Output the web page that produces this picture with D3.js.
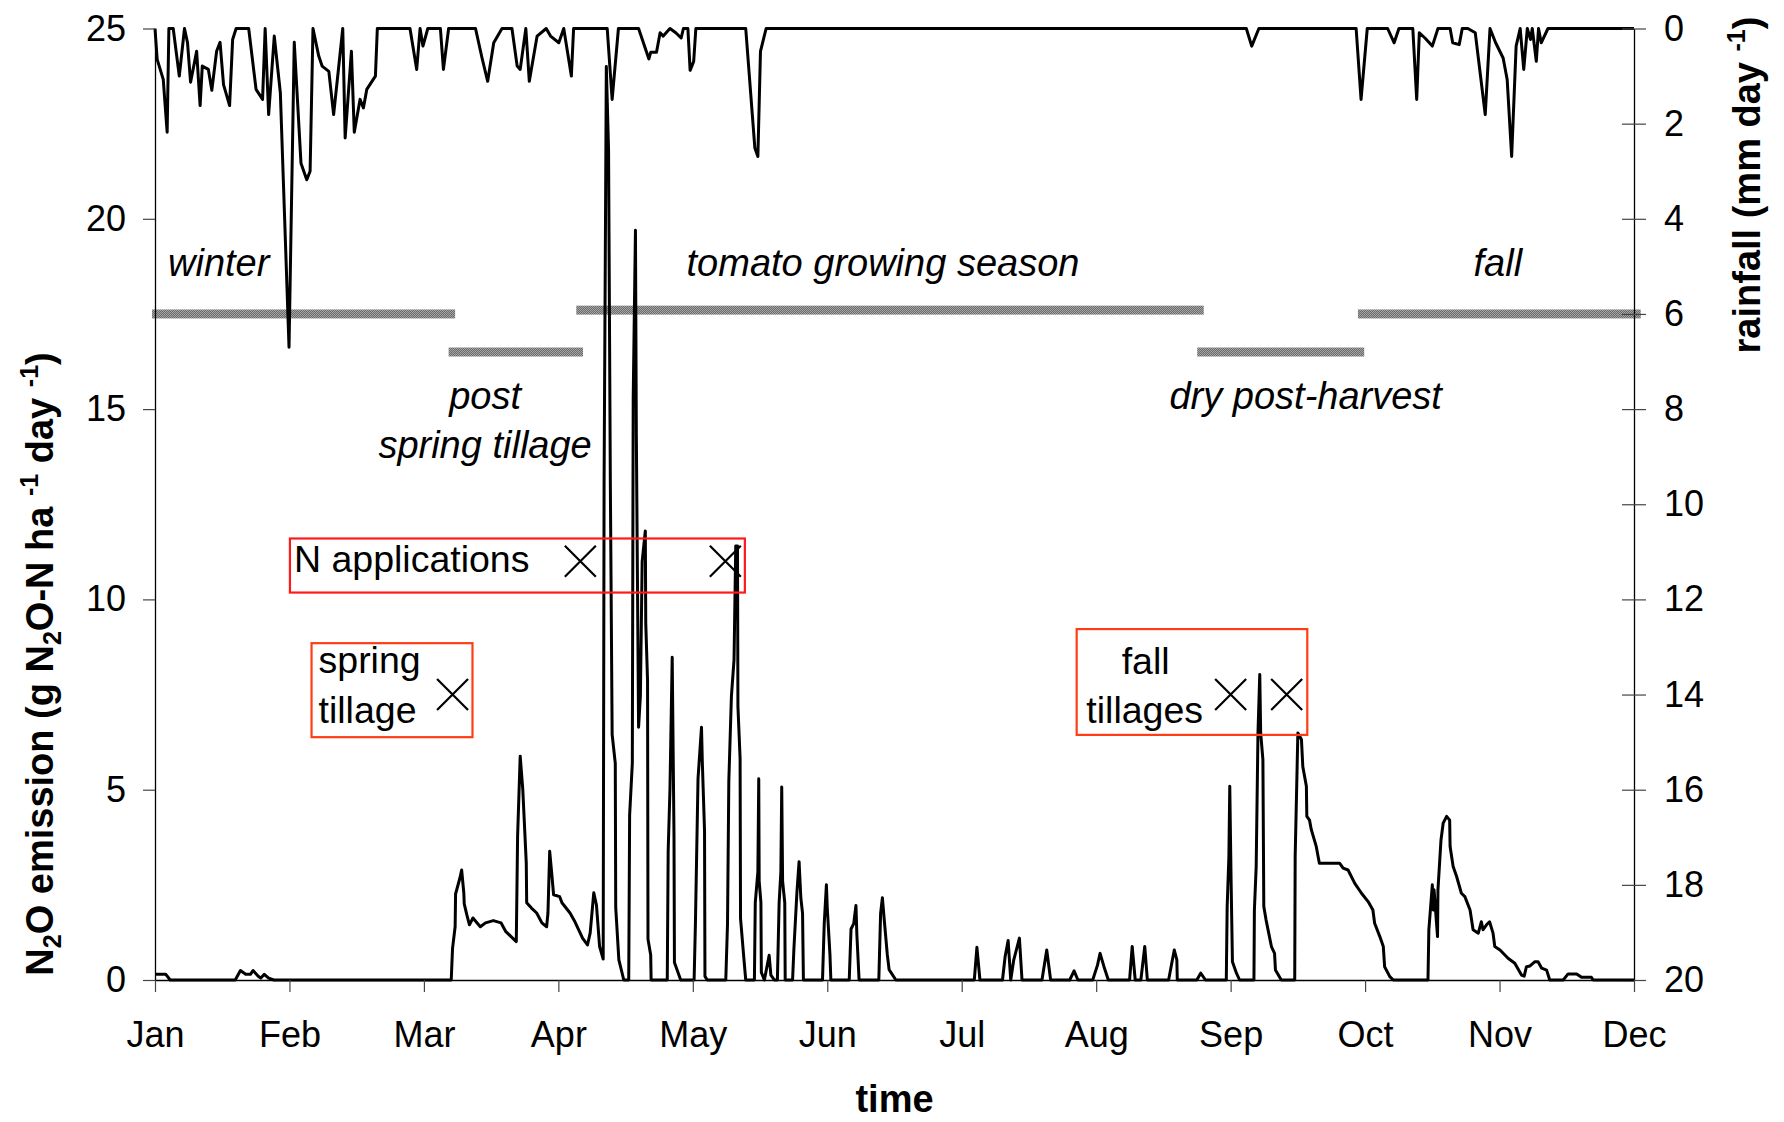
<!DOCTYPE html>
<html>
<head>
<meta charset="utf-8">
<script src="https://cdn.jsdelivr.net/npm/d3@7"></script>
<style>
  html, body { margin: 0; padding: 0; background: #fff; }
  svg { display: block; }
  text { font-family: "Liberation Sans", Arial, sans-serif; fill: #000; }
</style>
</head>
<body>
<div id="chart"></div>
<script>
// Month axis: ticks at the first day of each month (day of year, Jan 1 = 0)
const MONTHS = ["Jan", "Feb", "Mar", "Apr", "May", "Jun", "Jul", "Aug", "Sep", "Oct", "Nov", "Dec"]
const MONTH_START = [0, 31, 59, 90, 120, 151, 181, 212, 243, 273, 304, 334]
const N2O_TICKS = [0, 5, 10, 15, 20, 25]
const RAIN_TICKS = [0, 2, 4, 6, 8, 10, 12, 14, 16, 18, 20]

// daily N2O emission, [day of year, g N2O-N ha-1 day-1]
const n2o = [
  [0, 0.15], [2.5, 0.15], [3.5, 0], [18.5, 0], [19.7, 0.25], [20.9, 0.15], [22, 0.15], [22.6, 0.25],
  [23.8, 0.1], [24.4, 0.05], [25.2, 0.15], [26.2, 0.05], [27.4, 0],
  [65.3, 0], [65.6, 0.83], [66.2, 1.4], [66.3, 2.26], [67.3, 2.68], [67.7, 2.89], [68.2, 2.29], [68.3, 2.0],
  [68.9, 1.71], [69.5, 1.45], [70.3, 1.63], [72, 1.4], [73.2, 1.5], [75, 1.56], [76.8, 1.5], [77.9, 1.27],
  [79.1, 1.14], [80.3, 1.01], [80.6, 3.77], [81.2, 5.88], [81.8, 5.0], [82.6, 3.07], [82.7, 2.03], [83.8, 1.89],
  [85, 1.76], [86.2, 1.5], [87.3, 1.4], [87.6, 1.76], [88, 3.38], [88.5, 2.76], [88.9, 2.24], [90.3, 2.19],
  [90.8, 2.03], [92.6, 1.76], [93.7, 1.53], [95.4, 1.1], [96.5, 0.92], [97.1, 1.24], [97.9, 2.29], [98.5, 1.97],
  [99.2, 0.88], [100, 0.55],
  [100.2, 13.0], [100.7, 24.0], [101.2, 21.8], [101.6, 13.0], [102, 6.45], [102.7, 5.69], [102.8, 1.9],
  [103.5, 0.53], [104.6, 0],
  [105.7, 0], [105.9, 4.33], [106.5, 5.69], [106.7, 15.3], [107.2, 19.7], [107.4, 14.3], [107.9, 6.64],
  [108.3, 7.46], [108.7, 11.0], [109.4, 11.8], [109.5, 9.37], [109.9, 7.87], [110, 1.07], [110.6, 0.66], [110.7, 0],
  [114.3, 0], [114.5, 3.38], [114.9, 5.01], [115.4, 8.48], [115.8, 3.79], [115.9, 0.46], [117.3, 0],
  [120.3, 0], [120.6, 1.48], [121.2, 5.29], [122, 6.64], [122.2, 5.69], [122.7, 3.93], [122.8, 0.1], [123.3, 0],
  [127.6, 0], [128, 1.48], [128.3, 5.22], [128.9, 7.46], [129.5, 8.41], [129.9, 11.4], [130.3, 11.4],
  [130.4, 7.19], [130.9, 5.83], [131, 1.62], [131.8, 0.53], [132.2, 0],
  [134.2, 0], [134.4, 2.03], [135, 2.84], [135.2, 5.29], [135.3, 2.6], [135.7, 2.03], [135.8, 0.2], [136.5, 0],
  [137.6, 0.65], [138, 0.13], [138.8, 0],
  [139.5, 0], [139.9, 2.03], [140.3, 2.84], [140.5, 5.07], [140.7, 2.6], [141.2, 2.03], [141.3, 0], [143, 0],
  [143.3, 0.8], [144, 2.3], [144.5, 3.11], [144.9, 2.16], [145.3, 1.75], [145.5, 0],
  [149.9, 0], [150.3, 1.48], [150.8, 2.5], [151, 1.89], [151.6, 0.66], [151.8, 0],
  [155.9, 0], [156.3, 1.34], [156.9, 1.48], [157.4, 1.96], [157.6, 1.2], [158.1, 0],
  [162.5, 0], [162.9, 1.75], [163.3, 2.16], [163.7, 1.6], [164.4, 0.66], [164.8, 0.27], [165.2, 0.2], [166.3, 0],
  [183.9, 0], [184.5, 0.86], [185.2, 0],
  [190.4, 0], [191, 0.61], [191.7, 1.04], [192.3, 0], [193, 0.53], [194.3, 1.1], [194.9, 0],
  [199.5, 0], [200.6, 0.79], [201.5, 0],
  [205.9, 0], [206.9, 0.24], [207.8, 0],
  [211.2, 0], [212.3, 0.39], [212.9, 0.7], [213.8, 0.35], [214.8, 0],
  [219.7, 0], [220.3, 0.88], [221, 0], [222.3, 0], [223.2, 0.88], [223.8, 0],
  [228.7, 0], [230, 0.79], [230.6, 0.53], [230.7, 0],
  [235.2, 0], [236.1, 0.18], [237.2, 0],
  [242, 0], [242.2, 1.93], [242.6, 3.25], [242.8, 5.09], [243.1, 2.63], [243.4, 0.48], [244.3, 0.18], [245, 0],
  [248.2, 0], [248.3, 1.84], [248.7, 2.98], [249.1, 6.49], [249.5, 8.03], [249.7, 6.49], [250.2, 5.79],
  [250.4, 1.93], [250.9, 1.58], [252.1, 0.88], [252.8, 0.7], [253, 0.26], [254.3, 0],
  [257.3, 0], [257.4, 3.25], [258, 6.49], [258.8, 6.32], [259.1, 5.61], [259.9, 5.09], [260, 4.3], [260.6, 4.2],
  [261, 3.95], [262.1, 3.51], [262.8, 3.07], [267.3, 3.07], [268.1, 2.94], [269.2, 2.89], [270.7, 2.54],
  [272.2, 2.28], [273.7, 2.06], [274.8, 1.84], [275.2, 1.49], [276.4, 1.14], [277.2, 0.88], [277.5, 0.35],
  [278.7, 0.09], [279.5, 0],
  [287.5, 0], [287.7, 1.32], [288.5, 2.5], [288.7, 1.84], [288.9, 2.37], [289.7, 1.14], [289.8, 2.37],
  [290.5, 3.68], [291, 4.12], [291.8, 4.3], [292.5, 4.2], [292.6, 3.51], [293.3, 2.98], [294.1, 2.72],
  [295.2, 2.28], [296, 2.19], [297.2, 1.84], [297.9, 1.32], [299.1, 1.23], [299.8, 1.53], [300.2, 1.32],
  [301, 1.45], [301.7, 1.53], [302.5, 1.23], [302.9, 0.88], [304.1, 0.79], [305.9, 0.57], [307.4, 0.44],
  [308.9, 0.13], [309.5, 0.1], [310, 0.35], [310.8, 0.37], [311.9, 0.48], [312.6, 0.48], [313.4, 0.31],
  [314.5, 0.26], [315.2, 0], [318.2, 0], [319.3, 0.16], [321.2, 0.16], [322.3, 0.07], [324.5, 0.07],
  [324.9, 0], [334, 0]
]

// daily rainfall, [day of year, mm day-1] (plotted on the reversed right axis)
const rainfall = [
  [0, 0], [0.5, 0.65], [1.9, 1.07], [2.8, 2.18], [3.2, 0], [4.2, 0], [5.6, 1.0], [6.8, 0], [7.5, 0.3],
  [8.2, 1.13], [9.6, 0.48], [10.4, 1.62], [10.9, 0.79], [12.3, 0.86], [13.1, 1.3], [14.2, 0.48], [15, 0.29],
  [15.8, 1.18], [17.2, 1.62], [17.9, 0.23], [18.7, 0], [21.6, 0], [23.3, 1.28], [24.8, 1.49], [25.4, 0],
  [26.2, 1.81], [27.5, 0.16], [28.9, 1.35], [30.9, 6.7], [32, 0.29], [33.4, 2.83], [34.6, 3.18], [35.3, 3.0],
  [35.9, 0], [37.1, 0.58], [37.8, 0.79], [39.2, 0.9], [40.2, 1.81], [42.1, 0], [42.6, 2.3], [43.9, 0.48],
  [44.5, 2.18], [45.7, 1.49], [46.4, 1.67], [47.1, 1.28], [48.9, 1.0], [49.3, 0], [56.1, 0], [57.5, 0.86],
  [58.2, 0], [58.8, 0.37], [59.9, 0], [62.8, 0], [63.5, 0.86], [64.7, 0], [70.9, 0], [72.4, 0.62],
  [73.7, 1.11], [75.1, 0.3], [77, 0], [79.3, 0], [80.5, 0.79], [81.2, 0.86], [82.5, 0], [83.3, 1.11],
  [85.1, 0.16], [87.2, 0], [88.2, 0.16], [90.1, 0.3], [91.2, 0], [92.9, 1.0], [93.4, 0], [100.9, 0],
  [102, 1.49], [103.4, 0], [107.9, 0], [110.2, 0.64], [110.6, 0.5], [111.9, 0.5], [112.7, 0.09], [113.4, 0.16],
  [114.9, 0], [116.2, 0.09], [117.4, 0.2], [117.9, 0], [118.9, 0], [119.4, 0.88], [120.2, 0.69], [120.7, 0],
  [132.2, 0], [134.3, 2.51], [135, 2.69], [135.6, 0.48], [136.9, 0], [246.5, 0], [247.7, 0.37], [249.3, 0],
  [271, 0], [272.1, 1.49], [273.5, 0], [278.2, 0], [279.7, 0.3], [280.8, 0], [284, 0], [284.9, 1.49],
  [285.5, 0.09], [286.8, 0.2], [288.5, 0.37], [289.8, 0], [292.6, 0], [293.2, 0.3], [294.7, 0.34], [295.4, 0],
  [296.7, 0], [298.4, 0.09], [300.7, 1.81], [301.8, 0], [303.1, 0.3], [304.8, 0.62], [305.7, 1.07],
  [306.7, 2.69], [307.7, 0.37], [308.6, 0], [309.4, 0.86], [310.2, 0], [310.9, 0.23], [311.3, 0],
  [312.2, 0.69], [312.7, 0], [313.3, 0.3], [314.8, 0], [334, 0]
]

// season periods drawn as hatched bars (day of year, level on left axis)
const SEASON_NAMES = ["winter", "post spring tillage", "tomato growing season", "dry post-harvest", "fall"]
const SEASON_START = [-0.7, 64.7, 94.0, 235.3, 271.4]
const SEASON_END = [66.2, 95.5, 236.8, 272.8, 335.5]
const SEASON_LEVEL = [17.5, 16.5, 17.6, 16.5, 17.5]

// management events (day of year) and the level they are marked at
const N_APPLICATION_DAYS = [94.9, 127.5]
const SPRING_TILLAGE_DAYS = [65.6]
const FALL_TILLAGE_DAYS = [243.0, 255.5]
const N_APPLICATION_LEVEL = 11
const TILLAGE_LEVEL = 7.5

const W = 1784, H = 1122
const plot = { left: 155, right: 1634, top: 28.5, bottom: 980 }
const FONT = 36

const svg = d3.select("#chart").append("svg")
  .attr("width", W).attr("height", H)
svg.append("rect").attr("width", W).attr("height", H).attr("fill", "#fff")

// month ticks are evenly spaced, so map each month start onto an equal step
const step = (plot.right - plot.left) / (MONTH_START.length - 1)
const x = d3.scaleLinear()
  .domain(MONTH_START)
  .range(MONTH_START.map((d, i) => plot.left + i * step))
const yL = d3.scaleLinear().domain([0, 25]).range([plot.bottom, plot.top])
const yR = d3.scaleLinear().domain([0, 20]).range([plot.top, plot.bottom])

// Hatched gray fill for the season bars
const defs = svg.append("defs")
const pat = defs.append("pattern")
  .attr("id", "season-hatch")
  .attr("width", 2).attr("height", 2)
  .attr("patternUnits", "userSpaceOnUse")
pat.append("rect").attr("width", 2).attr("height", 2).attr("fill", "#6a6a6a")
pat.append("rect").attr("width", 1).attr("height", 1).attr("fill", "#a6a6a6")
pat.append("rect").attr("x", 1).attr("y", 1).attr("width", 1).attr("height", 1).attr("fill", "#a6a6a6")

const seasons = SEASON_NAMES.map((name, i) => ({
  name, start: SEASON_START[i], end: SEASON_END[i], level: SEASON_LEVEL[i]
}))

svg.append("g").selectAll("rect")
  .data(seasons)
  .join("rect")
  .attr("x", d => x(d.start))
  .attr("width", d => x(d.end) - x(d.start))
  .attr("y", d => yL(d.level) - 4.5)
  .attr("height", 9)
  .attr("fill", "url(#season-hatch)")

// Rainfall (top, reversed axis)
svg.append("path")
  .datum(rainfall)
  .attr("d", d3.line().x(d => x(d[0])).y(d => yR(d[1])))
  .attr("fill", "none")
  .attr("stroke", "#000")
  .attr("stroke-width", 3)
  .attr("stroke-linejoin", "round")

// N2O emission
svg.append("path")
  .datum(n2o)
  .attr("d", d3.line().x(d => x(d[0])).y(d => yL(d[1])))
  .attr("fill", "none")
  .attr("stroke", "#000")
  .attr("stroke-width", 3)
  .attr("stroke-linejoin", "round")

// Axes
const axisLeft = svg.append("g")
  .attr("transform", `translate(${plot.left},0)`)
  .call(d3.axisLeft(yL).tickValues(N2O_TICKS).tickSize(12).tickSizeOuter(0).tickPadding(17))
const axisRight = svg.append("g")
  .attr("transform", `translate(${plot.right},0)`)
  .call(d3.axisRight(yR).tickValues(RAIN_TICKS).tickSize(12).tickSizeOuter(0).tickPadding(18))
axisRight.selectAll(".tick line").attr("x1", -12)
const axisBottom = svg.append("g")
  .attr("transform", `translate(0,${plot.bottom})`)
  .call(d3.axisBottom(x).tickValues(MONTH_START).tickFormat((d, i) => MONTHS[i])
    .tickSize(12).tickSizeOuter(0).tickPadding(29))

for (const g of [axisLeft, axisRight, axisBottom]) {
  g.select(".domain").attr("stroke", "#000").attr("stroke-width", 1.3)
  g.selectAll(".tick line").attr("stroke", "#444").attr("stroke-width", 1.2)
  g.selectAll(".tick text")
    .attr("font-size", FONT)
    .attr("font-family", '"Liberation Sans", Arial, sans-serif')
    .attr("fill", "#000")
}

// Axis titles
const leftTitle = svg.append("text")
  .attr("transform", `translate(53,${664}) rotate(-90)`)
  .attr("text-anchor", "middle")
  .attr("font-size", 38)
  .attr("font-weight", "bold")
const subSup = (t, parts) => parts.forEach(([s, kind]) => {
  const ts = t.append("tspan").text(s)
  if (kind === "sub") ts.attr("font-size", 25).attr("dy", 8)
  if (kind === "sup") ts.attr("font-size", 25).attr("dy", -15)
  if (kind === "afterSub") ts.attr("dy", -8)
  if (kind === "afterSup") ts.attr("dy", 15)
})
subSup(leftTitle, [
  ["N"], ["2", "sub"], ["O emission (g N", "afterSub"], ["2", "sub"], ["O-N ha ", "afterSub"],
  ["-1", "sup"], [" day ", "afterSup"], ["-1", "sup"], [")", "afterSup"]
])

const rightTitle = svg.append("text")
  .attr("transform", `translate(1760,${185}) rotate(-90)`)
  .attr("text-anchor", "middle")
  .attr("font-size", 38)
  .attr("font-weight", "bold")
subSup(rightTitle, [["rainfall (mm day "], ["-1", "sup"], [")", "afterSup"]])

svg.append("text")
  .attr("x", (plot.left + plot.right) / 2)
  .attr("y", 1112)
  .attr("text-anchor", "middle")
  .attr("font-size", 38)
  .attr("font-weight", "bold")
  .text("time")

// Season labels (italic)
const italic = (tx, ty, anchor, lines) => {
  const t = svg.append("text")
    .attr("x", tx).attr("y", ty)
    .attr("text-anchor", anchor)
    .attr("font-size", 38)
    .attr("font-style", "italic")
  lines.forEach((s, i) => t.append("tspan").attr("x", tx).attr("dy", i ? 49 : 0).text(s))
}
italic(x(3), yL(18.5), "start", ["winter"])
italic(x(118.6), yL(18.5), "start", ["tomato growing season"])
italic(x(298), yL(18.5), "start", ["fall"])
italic(x(73.1), yL(15.0), "middle", ["post", "spring tillage"])
italic(x(228.9), yL(15.0), "start", ["dry post-harvest"])

// Annotation boxes with event markers
const cross = (g, cx, cy, r) => g.append("path")
  .attr("d", `M${cx - r},${cy - r}L${cx + r},${cy + r}M${cx - r},${cy + r}L${cx + r},${cy - r}`)
  .attr("stroke", "#000")
  .attr("stroke-width", 2.2)
  .attr("fill", "none")

const ann = svg.append("g")
const box = (d0, d1, vTop, vBot, color) => ann.append("rect")
  .attr("x", x(d0)).attr("y", yL(vTop))
  .attr("width", x(d1) - x(d0)).attr("height", yL(vBot) - yL(vTop))
  .attr("fill", "none").attr("stroke", color).attr("stroke-width", 2.2)

box(31.1, 132.0, 11.6, 10.18, "#ff1a1a")
box(35.6, 70.2, 8.85, 6.38, "#ff3d14")
box(207.5, 260.1, 9.22, 6.44, "#ff3d14")

N_APPLICATION_DAYS.forEach(d => cross(ann, x(d), yL(N_APPLICATION_LEVEL), 15.5))
SPRING_TILLAGE_DAYS.forEach(d => cross(ann, x(d), yL(TILLAGE_LEVEL), 15.5))
FALL_TILLAGE_DAYS.forEach(d => cross(ann, x(d), yL(TILLAGE_LEVEL), 15.5))

const label = (tx, ty, anchor, s) => ann.append("text")
  .attr("x", tx).attr("y", ty)
  .attr("text-anchor", anchor)
  .attr("font-size", 37.5)
  .text(s)
label(x(31.1) + 4, yL(N_APPLICATION_LEVEL) + 11, "start", "N applications")
label(x(35.6) + 7, yL(TILLAGE_LEVEL) - 22, "start", "spring")
label(x(35.6) + 7, yL(TILLAGE_LEVEL) + 28, "start", "tillage")
label(x(207.5) + 69, yL(TILLAGE_LEVEL) - 21, "middle", "fall")
label(x(207.5) + 68, yL(TILLAGE_LEVEL) + 28, "middle", "tillages")
</script>
</body>
</html>
